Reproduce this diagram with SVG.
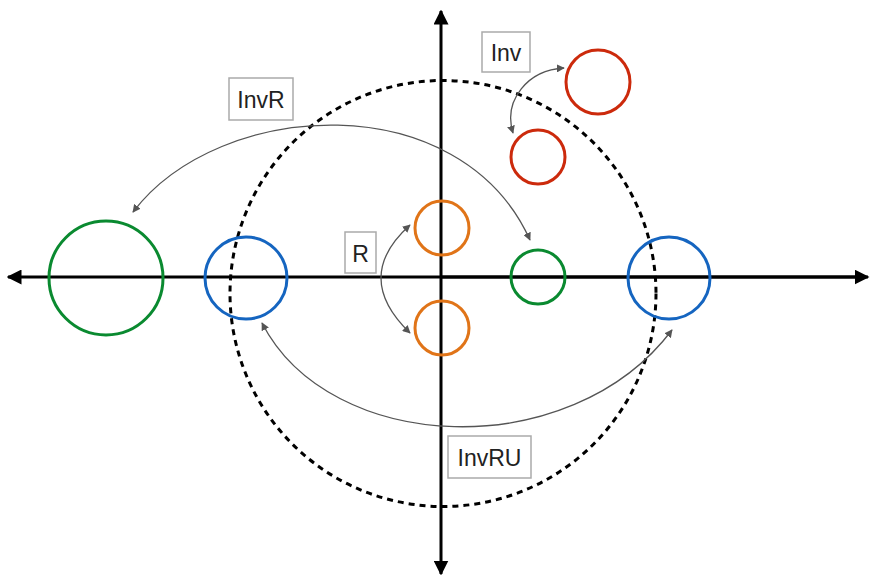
<svg xmlns="http://www.w3.org/2000/svg" width="870" height="575" viewBox="0 0 870 575">
<defs>
<marker id="ax" viewBox="0 0 10 10" refX="9" refY="5" markerWidth="5" markerHeight="5" orient="auto" markerUnits="strokeWidth">
<path d="M0,0 L10,5 L0,10 z" fill="#000"/>
</marker>
<marker id="ar" viewBox="0 0 10 10" refX="9" refY="5" markerWidth="8" markerHeight="8" orient="auto-start-reverse" markerUnits="userSpaceOnUse">
<path d="M0,0 L10,5 L0,10 z" fill="#555"/>
</marker>
</defs>
<style>
.axis{stroke:#000;stroke-width:3;fill:none}
.c{fill:none;stroke-width:3}
.red{stroke:#cc2a0c}
.orange{stroke:#e07418}
.green{stroke:#0a8a30}
.blue{stroke:#1565c0}
.conn{fill:none;stroke:#555;stroke-width:1.3}
.box{fill:#fff;stroke:#aaa;stroke-width:1.5}
.lbl{font-family:"Liberation Sans",Arial,sans-serif;font-size:23px;fill:#222;text-anchor:middle;dominant-baseline:central}
</style>
<rect width="870" height="575" fill="#fff"/>
<g id="axes">
<line class="axis" x1="860" y1="277" x2="8" y2="277" marker-end="url(#ax)"/>
<line class="axis" x1="441" y1="277" x2="868" y2="277" marker-end="url(#ax)"/>
<line class="axis" x1="441" y1="277" x2="441" y2="11" marker-end="url(#ax)"/>
<line class="axis" x1="441" y1="277" x2="441" y2="574" marker-end="url(#ax)"/>
</g>
<g id="unit-circle">
<circle cx="443" cy="293.5" r="213" fill="none" stroke="#000" stroke-width="3" stroke-dasharray="6,5"/>
</g>
<g id="red-big"><circle class="c red" cx="598" cy="82" r="32"/></g>
<g id="red-small"><circle class="c red" cx="538" cy="157" r="27"/></g>
<g id="orange-up"><circle class="c orange" cx="442" cy="228" r="27"/></g>
<g id="orange-down"><circle class="c orange" cx="442" cy="328" r="27"/></g>
<g id="green-small"><circle class="c green" cx="538" cy="277" r="27"/></g>
<g id="green-big"><circle class="c green" cx="106" cy="278" r="57"/></g>
<g id="blue-left"><circle class="c blue" cx="246" cy="278" r="41"/></g>
<g id="blue-right"><circle class="c blue" cx="669" cy="278" r="41"/></g>
<g id="connectors">
<path class="conn" d="M513,133 C503,100 528,70 564,68" marker-start="url(#ar)" marker-end="url(#ar)"/>
<path class="conn" d="M133,212 C220,98 460,85 530,240" marker-start="url(#ar)" marker-end="url(#ar)"/>
<path class="conn" d="M410,225 Q352,277 410,333" marker-start="url(#ar)" marker-end="url(#ar)"/>
<path class="conn" d="M262,323 C330,455 570,465 672,330" marker-start="url(#ar)" marker-end="url(#ar)"/>
</g>
<g id="label-inv"><rect class="box" x="482" y="32" width="48" height="40"/><text class="lbl" x="506" y="53">Inv</text></g>
<g id="label-invr"><rect class="box" x="229" y="78" width="64" height="42"/><text class="lbl" x="261" y="100">InvR</text></g>
<g id="label-r"><rect class="box" x="345" y="232" width="31" height="41"/><text class="lbl" x="360.5" y="254">R</text></g>
<g id="label-invru"><rect class="box" x="448" y="436" width="83" height="42"/><text class="lbl" x="489.5" y="458">InvRU</text></g>
</svg>
